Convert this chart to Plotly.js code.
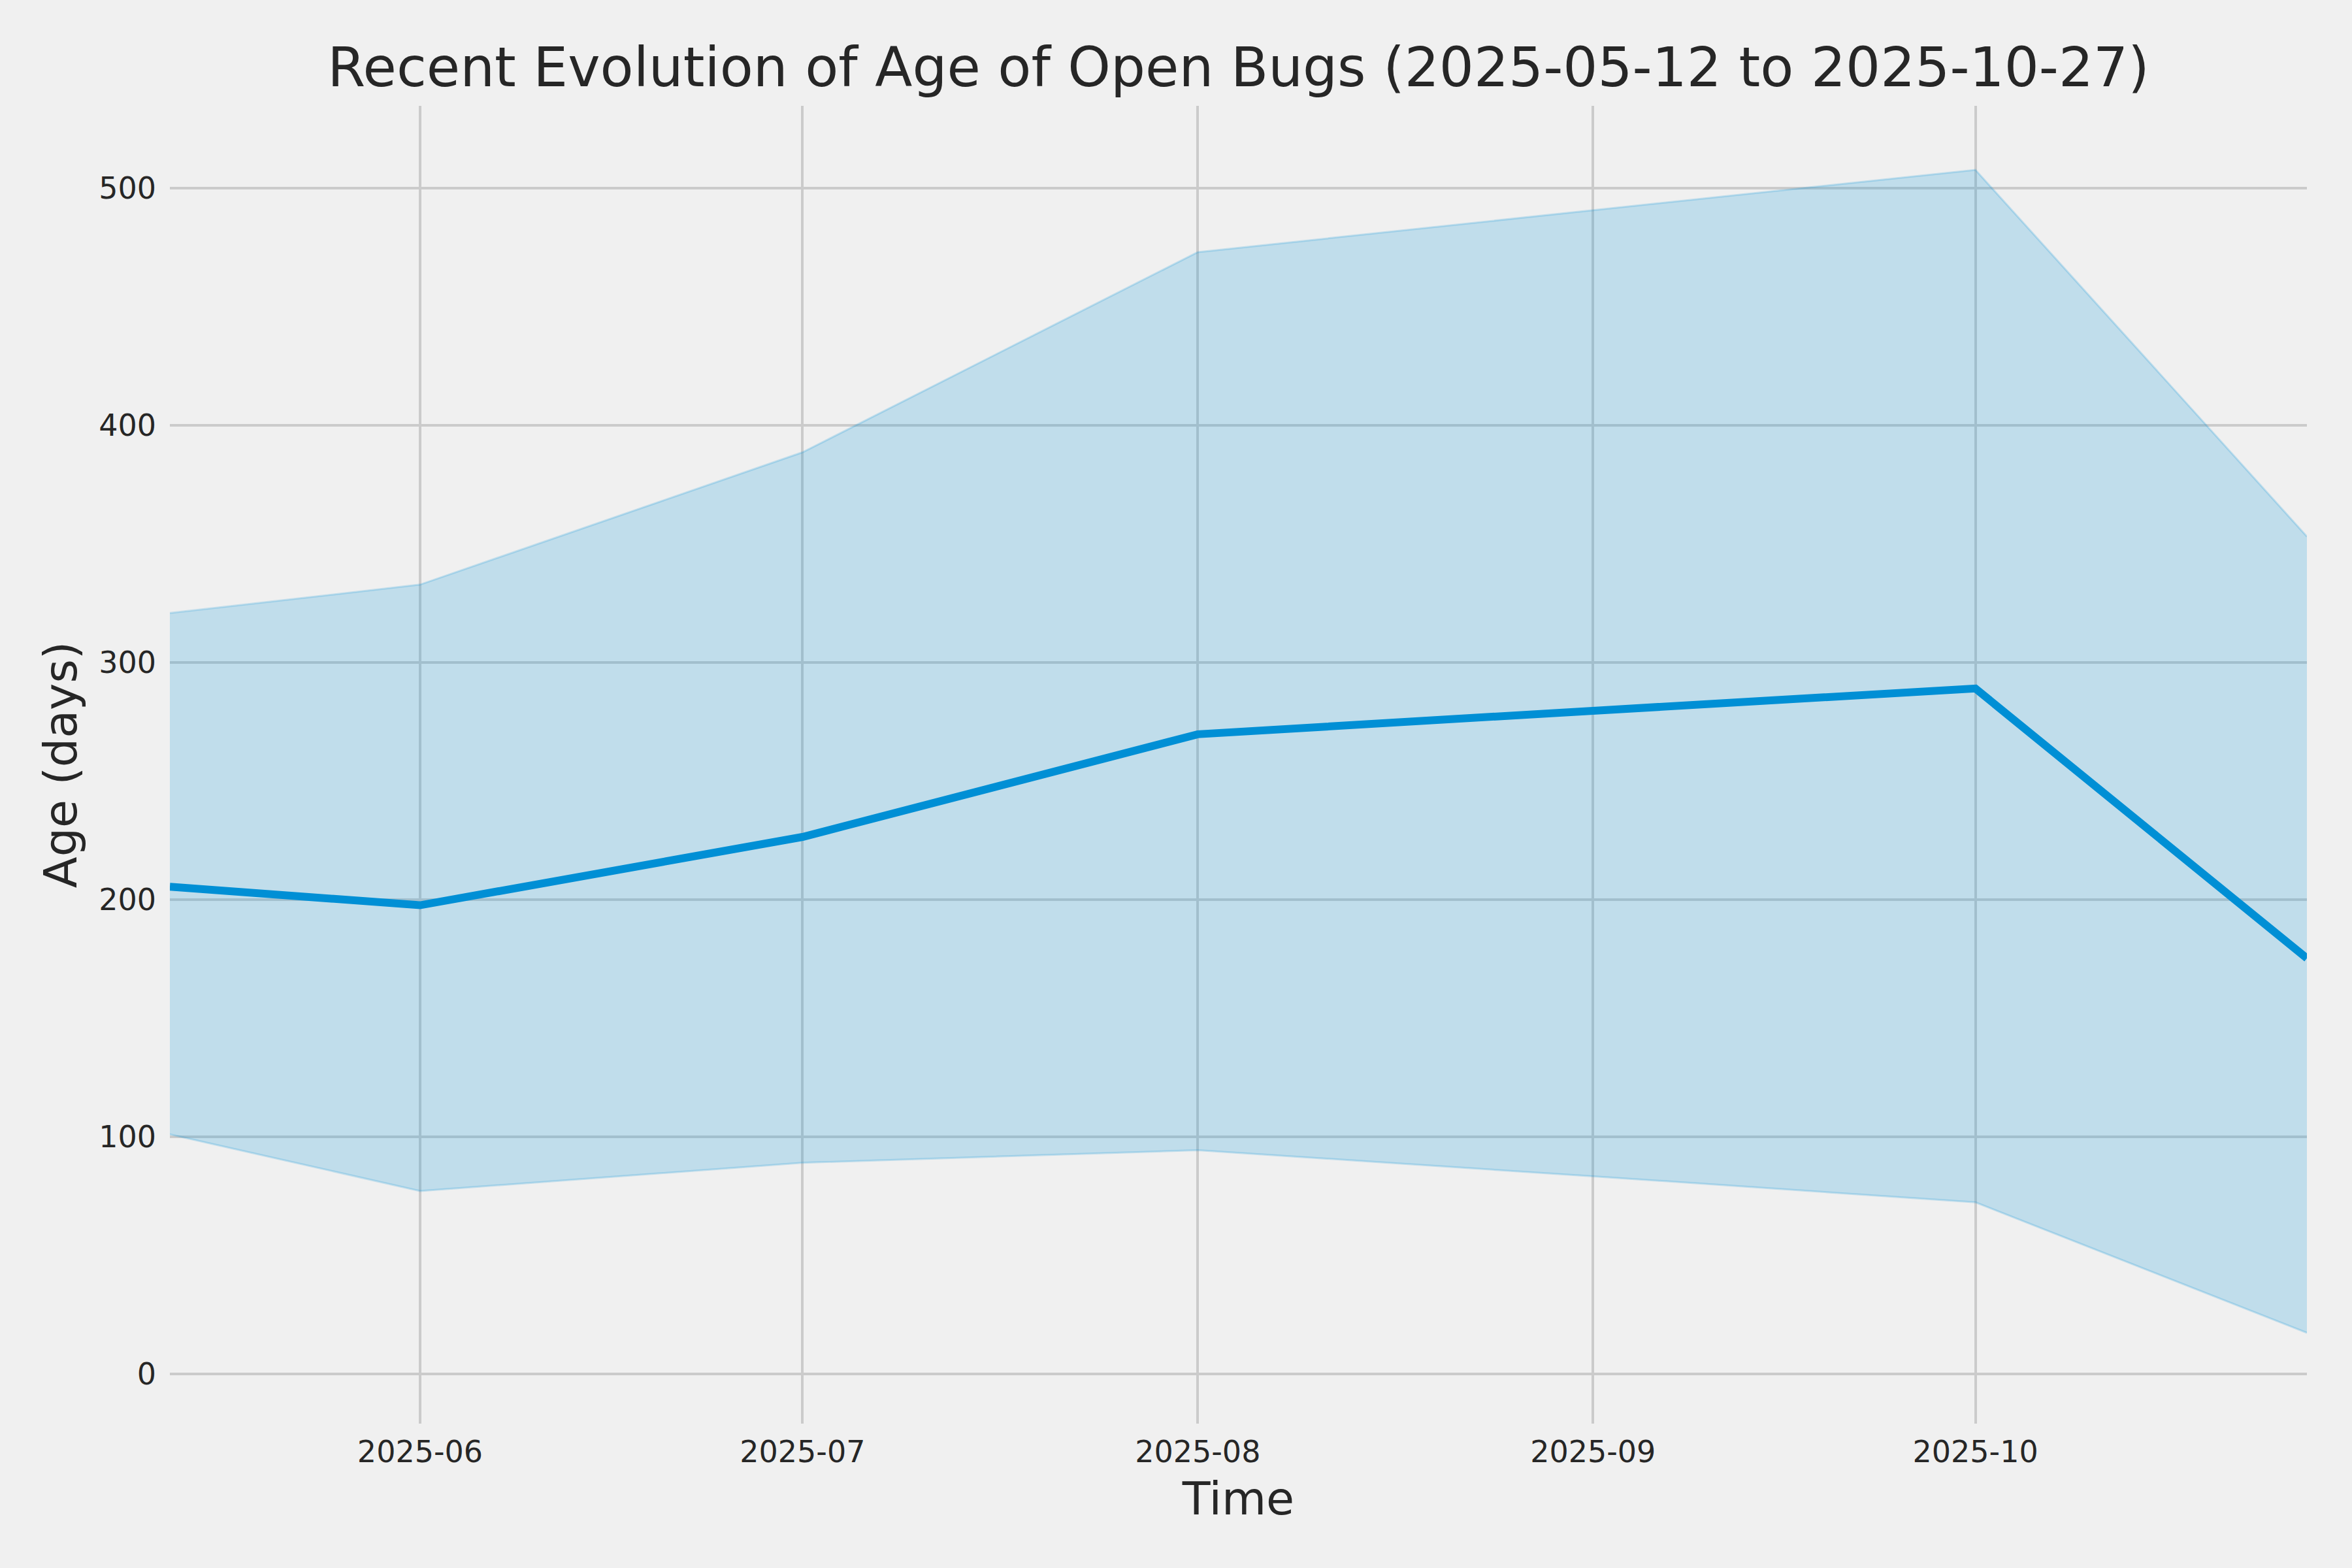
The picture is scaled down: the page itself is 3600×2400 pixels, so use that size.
<!DOCTYPE html>
<html>
<head>
<meta charset="utf-8">
<script src="https://cdn.plot.ly/plotly-3.0.1.min.js"></script>
<style>
  html, body { margin: 0; padding: 0; background: #f0f0f0; }
  #chart { width: 3600px; height: 2400px; }
</style>
</head>
<body>
<div id="chart"></div>
<script>
// Data
const dates = ['2025-05-12 09:00', '2025-06-01', '2025-07-01', '2025-08-01', '2025-09-01', '2025-10-01', '2025-10-27'];
const meanAge = [205.5, 197.7, 226.5, 269.8, 279.7, 289.1, 175.3];
const upperAge = [320.9, 332.9, 388.7, 473.1, 490.8, 507.8, 353.2];
const lowerAge = [101.1, 77.2, 89.1, 94.4, 83.4, 72.4, 17.4];
const yTicks = [0, 100, 200, 300, 400, 500];
const titleText = 'Recent Evolution of Age of Open Bugs (2025-05-12 to 2025-10-27)';
const xTitle = 'Time';
const yTitle = 'Age (days)';

const FONT = 'DejaVu Sans, sans-serif';
const TXT = '#262626';
const BAND = 'rgba(0,143,213,0.2)';

const traces = [
  { x: dates, y: lowerAge, type: 'scatter', mode: 'lines',
    line: { color: BAND, width: 3 }, hoverinfo: 'skip', showlegend: false },
  { x: dates, y: upperAge, type: 'scatter', mode: 'lines', fill: 'tonexty',
    fillcolor: BAND, line: { color: BAND, width: 3 }, hoverinfo: 'skip', showlegend: false },
  { x: dates, y: meanAge, type: 'scatter', mode: 'lines',
    line: { color: '#008fd5', width: 12 }, showlegend: false }
];

const layout = {
  width: 3600, height: 2400,
  paper_bgcolor: '#f0f0f0', plot_bgcolor: '#f0f0f0',
  margin: { l: 260, r: 69, t: 162, b: 221, pad: 0 },
  font: { family: FONT, color: TXT },
  title: { text: titleText, font: { family: FONT, size: 83.5, color: TXT },
           x: 0.5, xanchor: 'center', xref: 'paper', y: 0.957, yanchor: 'middle', yref: 'container' },
  xaxis: {
    type: 'date',
    range: [dates[0], dates[dates.length - 1]],
    tickformat: '%Y-%m', dtick: 'M1', tick0: '2025-06-01',
    showgrid: true, gridcolor: '#cbcbcb', gridwidth: 4,
    zeroline: false, showline: false, ticks: '', ticklabelstandoff: 12,
    tickfont: { family: FONT, size: 46, color: TXT },
    title: { text: xTitle, font: { family: FONT, size: 70, color: TXT }, standoff: 20 }
  },
  yaxis: {
    range: [-20.9, 534.8],
    tickvals: yTicks, ticktext: yTicks.map(String),
    showgrid: true, gridcolor: '#cbcbcb', gridwidth: 4,
    zeroline: false, showline: false, ticks: '', ticklabelstandoff: 20,
    tickfont: { family: FONT, size: 46, color: TXT },
    title: { text: yTitle, font: { family: FONT, size: 70, color: TXT }, standoff: 10 }
  }
};

Plotly.newPlot('chart', traces, layout, { staticPlot: true, displayModeBar: false });
</script>
</body>
</html>
